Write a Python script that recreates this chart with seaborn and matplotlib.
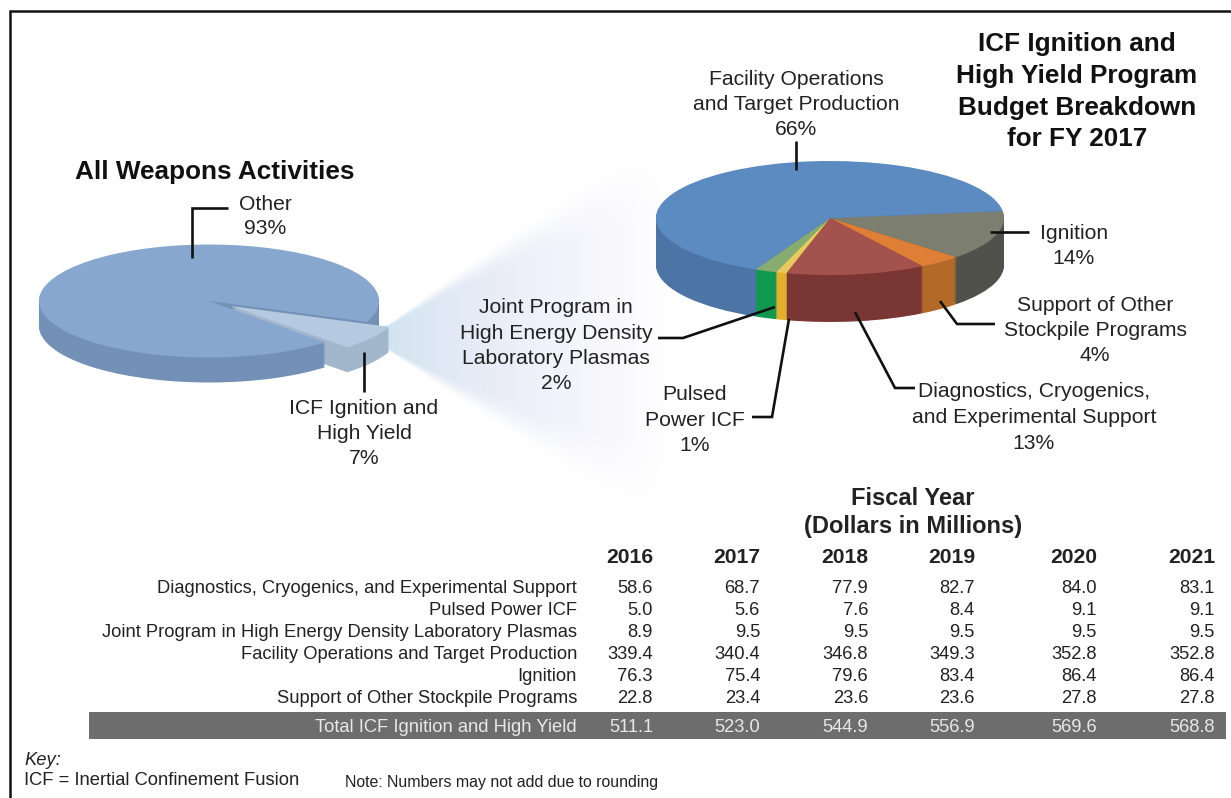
import numpy as np
import pandas as pd
import matplotlib
matplotlib.use('Agg')
import matplotlib.pyplot as plt
import seaborn as sns

# left pie
weapons_names = ['Other', 'ICF Ignition and High Yield']
weapons_pct = [93, 7]

# right pie, clockwise from Ignition
budget_names = ['Ignition', 'Support of Other Stockpile Programs',
                'Diagnostics, Cryogenics, and Experimental Support',
                'Pulsed Power ICF',
                'Joint Program in High Energy Density Laboratory Plasmas',
                'Facility Operations and Target Production']
budget_pct = [14, 4, 13, 1, 2, 66]

# table
years = ['2016', '2017', '2018', '2019', '2020', '2021']
row_names = ['Diagnostics, Cryogenics, and Experimental Support',
             'Pulsed Power ICF',
             'Joint Program in High Energy Density Laboratory Plasmas',
             'Facility Operations and Target Production',
             'Ignition',
             'Support of Other Stockpile Programs']
diagnostics = ['58.6', '68.7', '77.9', '82.7', '84.0', '83.1']
pulsed = ['5.0', '5.6', '7.6', '8.4', '9.1', '9.1']
joint = ['8.9', '9.5', '9.5', '9.5', '9.5', '9.5']
facility = ['339.4', '340.4', '346.8', '349.3', '352.8', '352.8']
ignition = ['76.3', '75.4', '79.6', '83.4', '86.4', '86.4']
support = ['22.8', '23.4', '23.6', '23.6', '27.8', '27.8']
total_name = 'Total ICF Ignition and High Yield'
total = ['511.1', '523.0', '544.9', '556.9', '569.6', '568.8']

W, H = 1231, 798
sns.set_theme(style='white')
plt.rcParams['font.family'] = ['Liberation Sans', 'DejaVu Sans']
fig = plt.figure(figsize=(W / 100, H / 100), dpi=100, facecolor='white')


def pixel_axes(z):
    a = fig.add_axes([0, 0, 1, 1], zorder=z)
    a.set_xlim(0, W)
    a.set_ylim(H, 0)
    a.axis('off')
    a.patch.set_alpha(0)
    return a


def pie3d(values, tops, sides, cx, cy, rx, ry, depth, start, explode=None):
    # flattened pie: layers of the same pie shifted down, top one last
    a = fig.add_axes([0, 0, 1, 1], zorder=2)
    for k in range(depth, -1, -1):
        cols = tops if k == 0 else sides
        a.pie(values, colors=cols, startangle=start, counterclock=False,
              explode=explode, center=(0, -k / ry), radius=1,
              wedgeprops={'linewidth': 0})
    a.set_aspect('auto')
    a.set_xlim(-cx / rx, (W - cx) / rx)
    a.set_ylim((cy - H) / ry, cy / ry)
    a.axis('off')
    a.patch.set_alpha(0)
    return a


back = pixel_axes(0)

# soft fan between the two pies
xx, yy = np.meshgrid(np.arange(385, 680), np.arange(110, 545))
t = np.clip((xx - 388) / 280, 0, 1)
mid = 337 + t * (328 - 337)
half = 14 + t * 205
edge = np.clip((1 - np.abs(yy - mid) / half) / (0.25 + 0.25 * t), 0, 1)
edge = edge * edge * (3 - 2 * edge)
rgba = np.zeros(xx.shape + (4,))
rgba[..., 0] = 0.76 + 0.12 * np.sqrt(t)
rgba[..., 1] = 0.87 - 0.01 * t
rgba[..., 2] = 0.93 + 0.04 * t
rgba[..., 3] = edge * np.clip(1 - t, 0, 1) ** 0.9 * 0.8
back.imshow(rgba, extent=(385, 680, 545, 110), aspect='auto', interpolation='bilinear')
back.set_xlim(0, W)
back.set_ylim(H, 0)

pie3d(weapons_pct, ['#88a7cf', '#b5cae0'], ['#7390b6', '#a3b7cc'],
      209, 301, 170, 56.5, 25, -21.7 - 25.2, explode=[0, 0.157])
pie3d(budget_pct,
      ['#7c7f70', '#df7f35', '#a4524e', '#e8c860', '#86ac70', '#5b8bc0'],
      ['#50514a', '#b36a28', '#793632', '#e2ae2c', '#0f9a50', '#4c75a6'],
      830, 218, 174, 57, 47, 7)

band_ax = fig.add_axes([89 / W, 1 - 739 / H, 1137 / W, 27 / H], zorder=1)
sns.heatmap(pd.DataFrame([[float(v) for v in total]], columns=years),
            cmap=['#6d6d6d'], cbar=False, xticklabels=False, yticklabels=False,
            ax=band_ax)

ax = pixel_axes(5)

# frame, only top and left are inside the picture
ax.plot([10, 10, W], [H, 10.5, 10.5], color='#111111', lw=1.8, solid_joinstyle='miter')

# leader lines
leaders = [
    [(192, 258), (192, 208), (228, 208)],
    [(364, 352), (364, 392)],
    [(796, 170), (796, 141)],
    [(990, 232), (1029, 232)],
    [(940, 301), (957, 324), (995, 324)],
    [(855, 312), (895, 388), (915, 388)],
    [(789, 319), (772, 417), (752, 417)],
    [(775, 307), (683, 338), (658, 338)],
]
for pts in leaders:
    ax.plot([p[0] for p in pts], [p[1] for p in pts], color='#111111', lw=1.9,
            solid_joinstyle='miter', solid_capstyle='butt')


def say(x, ys, lines, size=15.2, weight='normal', ha='center', color='#222222', style='normal'):
    for y, line in zip(ys, lines):
        ax.text(x, y + 2.5, line, fontsize=size, fontweight=weight, ha=ha, va='center',
                color=color, fontstyle=style)


def pct(v):
    return str(v) + '%'


# titles
say(215, [170], ['All Weapons Activities'], size=18.8, weight='bold', color='#111111')
say(1077, [42, 73, 105, 137],
    ['ICF Ignition and', 'High Yield Program', 'Budget Breakdown', 'for FY 2017'],
    size=18.8, weight='bold', color='#111111')

# pie labels
say(265, [202, 226], ['Other', pct(weapons_pct[0])])
say(364, [406, 431, 456], ['ICF Ignition and', 'High Yield', pct(weapons_pct[1])])
say(796, [77, 102, 127], ['Facility Operations', 'and Target Production', pct(budget_pct[5])])
say(1074, [231, 256], ['Ignition', pct(budget_pct[0])])
say(1095, [303, 328, 353], ['Support of Other', 'Stockpile Programs', pct(budget_pct[1])])
say(1034, [389, 415, 441], ['Diagnostics, Cryogenics,', 'and Experimental Support', pct(budget_pct[2])])
say(695, [392, 418, 443], ['Pulsed', 'Power ICF', pct(budget_pct[3])])
say(556, [305, 331, 356, 381], ['Joint Program in', 'High Energy Density', 'Laboratory Plasmas', pct(budget_pct[4])])

# table
say(913, [496, 524], ['Fiscal Year', '(Dollars in Millions)'], size=17, weight='bold')
col_x = [653, 760, 868, 975, 1097, 1215]
rows = [diagnostics, pulsed, joint, facility, ignition, support]
row_y = [586, 608, 630, 652, 674, 696]
for x, yr in zip(col_x, years):
    say(x, [555], [yr], size=15.2, weight='bold', ha='right')
for y, name, row in zip(row_y, row_names, rows):
    say(577, [y], [name], size=13.2, ha='right')
    for x, v in zip(col_x, row):
        say(x, [y], [v], size=13.2, ha='right')
say(577, [725], [total_name], size=13.2, ha='right', color='#e8e8e8')
for x, v in zip(col_x, total):
    say(x, [725], [v], size=13.2, ha='right', color='#e8e8e8')

# footer
say(24, [758], ['Key:'], size=13.2, ha='left', style='italic')
say(24, [778], ['ICF = Inertial Confinement Fusion'], size=13.2, ha='left')
say(345, [780], ['Note: Numbers may not add due to rounding'], size=11.4, ha='left')

fig.savefig('out.png', dpi=100, facecolor='white')
